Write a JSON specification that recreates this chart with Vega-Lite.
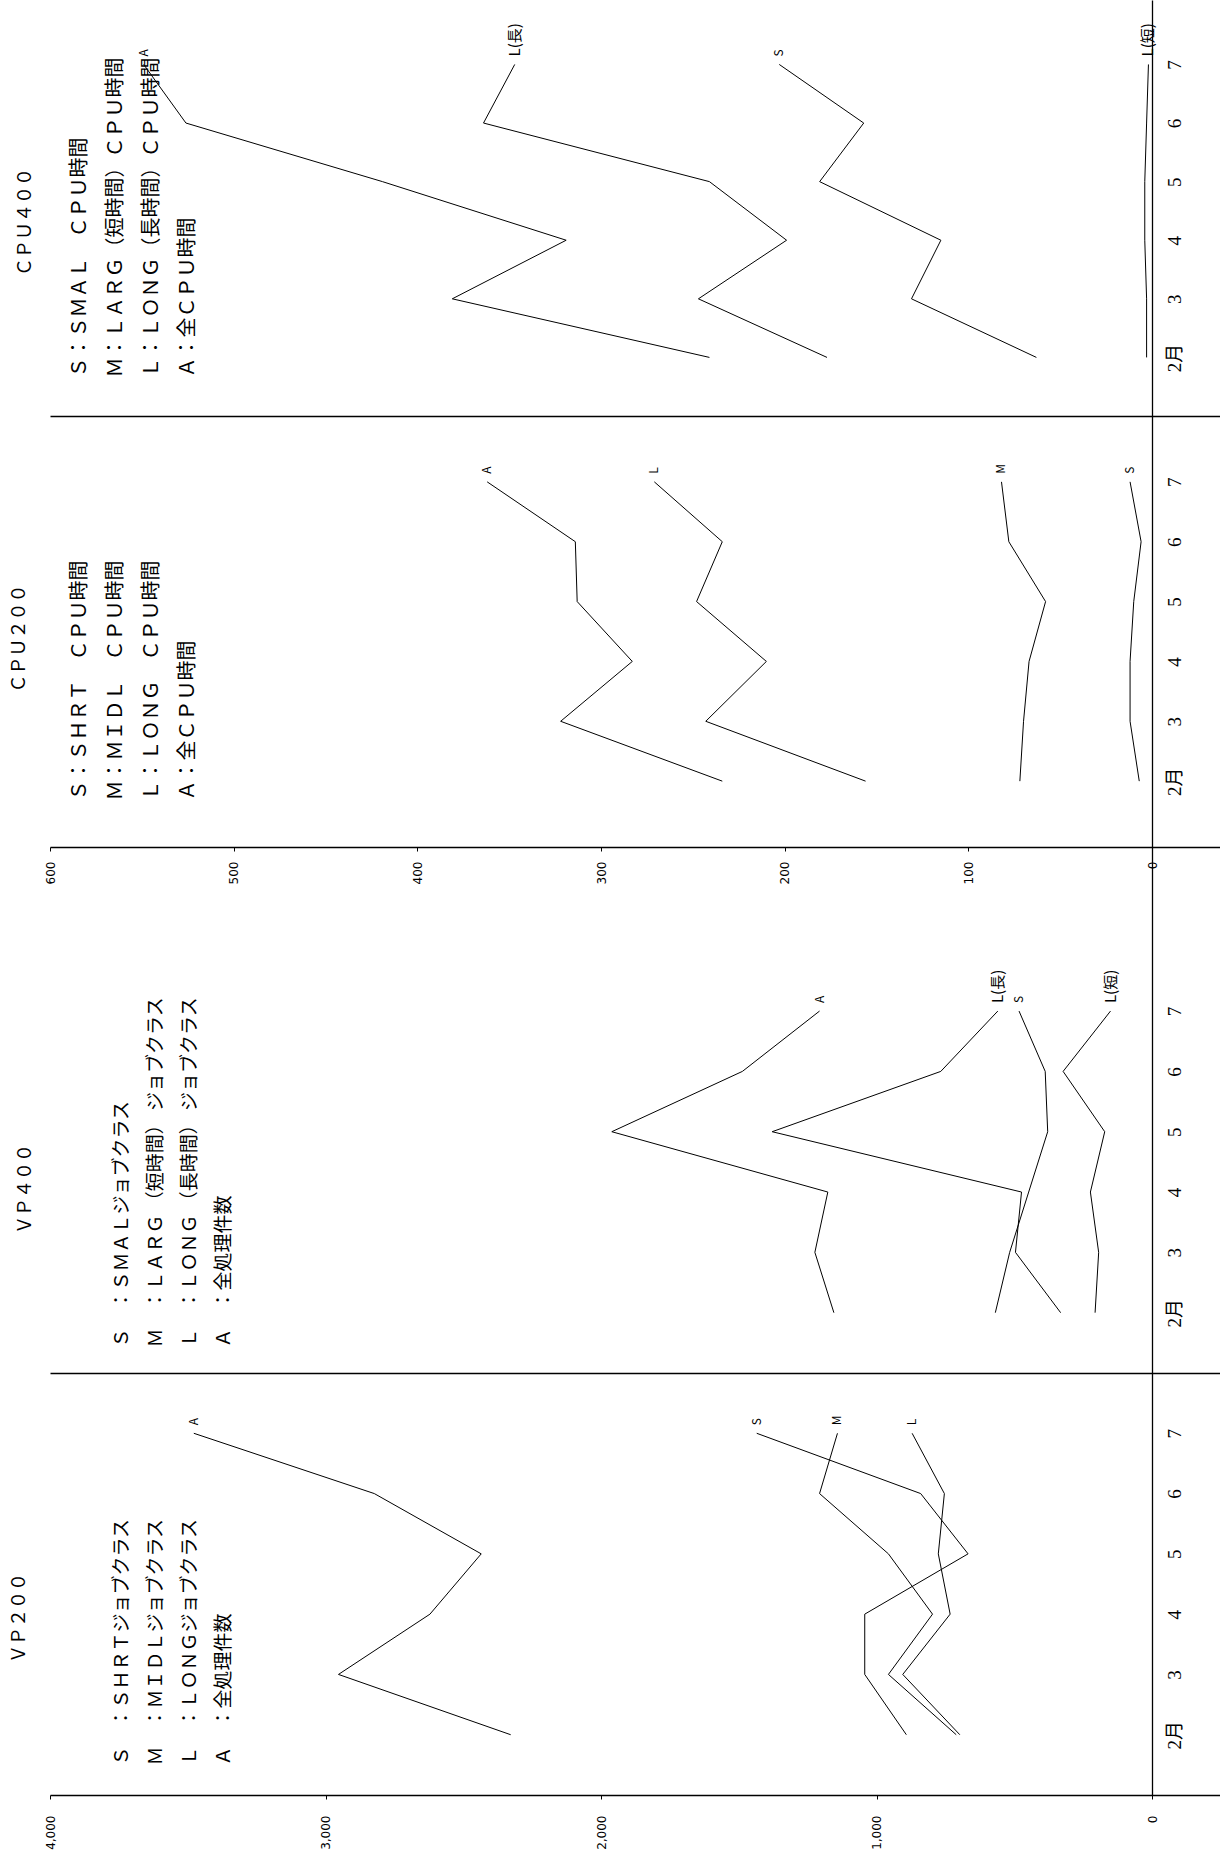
{
  "$schema": "https://vega.github.io/schema/vega-lite/v6.json",
  "padding": {"left": 10, "top": 0, "right": 0, "bottom": 0},
  "background": "white",
  "config": {
    "view": {"stroke": null},
    "font": "Noto Sans CJK JP",
    "axis": {"grid": false, "domainColor": "black", "tickColor": "black", "labelColor": "black", "titleColor": "black", "domainWidth": 1.3},
    "title": {"color": "black"}
  },
  "datasets": {
    "cpu400": [
      {"month": 2, "series": "A", "value": 241}, {"month": 3, "series": "A", "value": 381}, {"month": 4, "series": "A", "value": 319},
      {"month": 5, "series": "A", "value": 419}, {"month": 6, "series": "A", "value": 526}, {"month": 7, "series": "A", "value": 549},
      {"month": 2, "series": "L(長)", "value": 177}, {"month": 3, "series": "L(長)", "value": 247}, {"month": 4, "series": "L(長)", "value": 199},
      {"month": 5, "series": "L(長)", "value": 241}, {"month": 6, "series": "L(長)", "value": 364}, {"month": 7, "series": "L(長)", "value": 347},
      {"month": 2, "series": "S", "value": 63}, {"month": 3, "series": "S", "value": 131}, {"month": 4, "series": "S", "value": 115},
      {"month": 5, "series": "S", "value": 181}, {"month": 6, "series": "S", "value": 157}, {"month": 7, "series": "S", "value": 203},
      {"month": 2, "series": "L(短)", "value": 3}, {"month": 3, "series": "L(短)", "value": 3}, {"month": 4, "series": "L(短)", "value": 4},
      {"month": 5, "series": "L(短)", "value": 4}, {"month": 6, "series": "L(短)", "value": 3}, {"month": 7, "series": "L(短)", "value": 2}
    ],
    "cpu200": [
      {"month": 2, "series": "A", "value": 234}, {"month": 3, "series": "A", "value": 322}, {"month": 4, "series": "A", "value": 283},
      {"month": 5, "series": "A", "value": 313}, {"month": 6, "series": "A", "value": 314}, {"month": 7, "series": "A", "value": 362},
      {"month": 2, "series": "L", "value": 156}, {"month": 3, "series": "L", "value": 243}, {"month": 4, "series": "L", "value": 210},
      {"month": 5, "series": "L", "value": 248}, {"month": 6, "series": "L", "value": 234}, {"month": 7, "series": "L", "value": 271},
      {"month": 2, "series": "M", "value": 72}, {"month": 3, "series": "M", "value": 70}, {"month": 4, "series": "M", "value": 67},
      {"month": 5, "series": "M", "value": 58}, {"month": 6, "series": "M", "value": 78}, {"month": 7, "series": "M", "value": 82},
      {"month": 2, "series": "S", "value": 7}, {"month": 3, "series": "S", "value": 12}, {"month": 4, "series": "S", "value": 12},
      {"month": 5, "series": "S", "value": 10}, {"month": 6, "series": "S", "value": 6}, {"month": 7, "series": "S", "value": 12}
    ],
    "vp400": [
      {"month": 2, "series": "A", "value": 1155}, {"month": 3, "series": "A", "value": 1224}, {"month": 4, "series": "A", "value": 1177},
      {"month": 5, "series": "A", "value": 1961}, {"month": 6, "series": "A", "value": 1487}, {"month": 7, "series": "A", "value": 1207},
      {"month": 2, "series": "L(長)", "value": 332}, {"month": 3, "series": "L(長)", "value": 496}, {"month": 4, "series": "L(長)", "value": 474},
      {"month": 5, "series": "L(長)", "value": 1379}, {"month": 6, "series": "L(長)", "value": 767}, {"month": 7, "series": "L(長)", "value": 560},
      {"month": 2, "series": "S", "value": 569}, {"month": 3, "series": "S", "value": 517}, {"month": 4, "series": "S", "value": 448},
      {"month": 5, "series": "S", "value": 379}, {"month": 6, "series": "S", "value": 388}, {"month": 7, "series": "S", "value": 483},
      {"month": 2, "series": "L(短)", "value": 207}, {"month": 3, "series": "L(短)", "value": 194}, {"month": 4, "series": "L(短)", "value": 224},
      {"month": 5, "series": "L(短)", "value": 172}, {"month": 6, "series": "L(短)", "value": 323}, {"month": 7, "series": "L(短)", "value": 151}
    ],
    "vp200": [
      {"month": 2, "series": "A", "value": 2328}, {"month": 3, "series": "A", "value": 2953}, {"month": 4, "series": "A", "value": 2621},
      {"month": 5, "series": "A", "value": 2435}, {"month": 6, "series": "A", "value": 2823}, {"month": 7, "series": "A", "value": 3478},
      {"month": 2, "series": "S", "value": 892}, {"month": 3, "series": "S", "value": 1043}, {"month": 4, "series": "S", "value": 1043},
      {"month": 5, "series": "S", "value": 668}, {"month": 6, "series": "S", "value": 840}, {"month": 7, "series": "S", "value": 1435},
      {"month": 2, "series": "M", "value": 711}, {"month": 3, "series": "M", "value": 957}, {"month": 4, "series": "M", "value": 797},
      {"month": 5, "series": "M", "value": 957}, {"month": 6, "series": "M", "value": 1207}, {"month": 7, "series": "M", "value": 1142},
      {"month": 2, "series": "L", "value": 698}, {"month": 3, "series": "L", "value": 905}, {"month": 4, "series": "L", "value": 733},
      {"month": 5, "series": "L", "value": 776}, {"month": 6, "series": "L", "value": 754}, {"month": 7, "series": "L", "value": 871}
    ]
  },
  "spacing": 0,
  "bounds": "flush",
  "vconcat": [
    {
      "width": 1171, "height": 416,
      "data": {"name": "cpu400"},
      "title": {"text": "ＣＰＵ４００", "orient": "left", "anchor": "middle", "frame": "group", "offset": 15, "dx": -14, "fontSize": 18, "fontWeight": "normal", "font": "Noto Sans CJK JP"},
      "layer": [
        {
          "mark": {"type": "line", "color": "black", "strokeWidth": 1},
          "encoding": {
            "x": {"field": "value", "type": "quantitative", "scale": {"domain": [-37.5, 600], "reverse": true, "nice": false, "zero": false},
                  "axis": {"labels": false, "ticks": false, "title": null}},
            "y": {"field": "month", "type": "quantitative", "scale": {"domain": [1, 8.1], "nice": false, "zero": false},
                  "axis": {"orient": "right", "offset": -69, "values": [2, 3, 4, 5, 6, 7], "labelExpr": "datum.value == 2 ? '2月' : datum.label", "labelAngle": 270, "labelAlign": "center", "labelBaseline": "top", "labelFontSize": 19, "labelFont": "Liberation Serif, Noto Sans CJK JP", "labelPadding": 13, "ticks": false, "title": null}},
            "detail": {"field": "series"},
            "order": {"field": "month", "type": "quantitative"}
          }
        },
        {
          "transform": [{"filter": "datum.month == 7"}],
          "mark": {"type": "text", "angle": 270, "align": "left", "baseline": "middle", "dx": 8, "color": "black"},
          "encoding": {
            "x": {"field": "value", "type": "quantitative", "scale": {"domain": [-37.5, 600], "reverse": true, "nice": false, "zero": false}},
            "y": {"field": "month", "type": "quantitative", "scale": {"domain": [1, 8.1], "nice": false, "zero": false},
                  "axis": {"orient": "left", "labels": false, "ticks": false, "domain": false,
                           "title": ["Ｓ：ＳＭＡＬ　ＣＰＵ時間", "Ｍ：ＬＡＲＧ（短時間）ＣＰＵ時間", "Ｌ：ＬＯＮＧ（長時間）ＣＰＵ時間", "Ａ：全ＣＰＵ時間"],
                           "titleAnchor": "start", "titleAlign": "left", "titlePadding": -147, "titleY": 377, "titleFontSize": 20, "titleFontWeight": "normal", "titleLineHeight": 36, "titleFont": "Noto Sans CJK JP"}},
            "text": {"field": "series"},
            "size": {"condition": {"test": "length(datum.series) > 1", "value": 15}, "value": 12}
          }
        }
      ],
      "resolve": {"axis": {"y": "independent"}}
    },
    {
      "width": 1171, "height": 431,
      "data": {"name": "cpu200"},
      "title": {"text": "ＣＰＵ２００", "orient": "left", "anchor": "middle", "frame": "group", "offset": 15, "dx": -7, "fontSize": 18, "fontWeight": "normal", "font": "Noto Sans CJK JP"},
      "layer": [
        {
          "mark": {"type": "line", "color": "black", "strokeWidth": 1},
          "encoding": {
            "x": {"field": "value", "type": "quantitative", "scale": {"domain": [-37.5, 600], "reverse": true, "nice": false, "zero": false},
                  "axis": {"values": [0, 100, 200, 300, 400, 500, 600], "format": "d", "labelAngle": 270, "labelAlign": "right", "labelBaseline": "middle", "labelFontSize": 12, "labelFont": "DejaVu Sans", "labelPadding": 10, "tickSize": 4, "title": null}},
            "y": {"field": "month", "type": "quantitative", "scale": {"domain": [0.9, 8.1], "nice": false, "zero": false},
                  "axis": {"orient": "right", "offset": -69, "values": [2, 3, 4, 5, 6, 7], "labelExpr": "datum.value == 2 ? '2月' : datum.label", "labelAngle": 270, "labelAlign": "center", "labelBaseline": "top", "labelFontSize": 19, "labelFont": "Liberation Serif, Noto Sans CJK JP", "labelPadding": 13, "ticks": false, "title": null}},
            "detail": {"field": "series"},
            "order": {"field": "month", "type": "quantitative"}
          }
        },
        {
          "transform": [{"filter": "datum.month == 7"}],
          "mark": {"type": "text", "angle": 270, "align": "left", "baseline": "middle", "dx": 8, "color": "black"},
          "encoding": {
            "x": {"field": "value", "type": "quantitative", "scale": {"domain": [-37.5, 600], "reverse": true, "nice": false, "zero": false}},
            "y": {"field": "month", "type": "quantitative", "scale": {"domain": [0.9, 8.1], "nice": false, "zero": false},
                  "axis": {"orient": "left", "labels": false, "ticks": false, "domain": false,
                           "title": ["Ｓ：ＳＨＲＴ　ＣＰＵ時間", "Ｍ：ＭＩＤＬ　ＣＰＵ時間", "Ｌ：ＬＯＮＧ　ＣＰＵ時間", "Ａ：全ＣＰＵ時間"],
                           "titleAnchor": "start", "titleAlign": "left", "titlePadding": -147, "titleY": 384, "titleFontSize": 20, "titleFontWeight": "normal", "titleLineHeight": 36, "titleFont": "Noto Sans CJK JP"}},
            "text": {"field": "series"},
            "size": {"condition": {"test": "length(datum.series) > 1", "value": 15}, "value": 12}
          }
        }
      ],
      "resolve": {"axis": {"y": "independent"}}
    },
    {
      "width": 1171, "height": 526,
      "data": {"name": "vp400"},
      "title": {"text": "ＶＰ４００", "orient": "left", "anchor": "middle", "frame": "group", "offset": 15, "dx": -79, "fontSize": 18, "fontWeight": "normal", "font": "Noto Sans CJK JP"},
      "layer": [
        {
          "mark": {"type": "line", "color": "black", "strokeWidth": 1},
          "encoding": {
            "x": {"field": "value", "type": "quantitative", "scale": {"domain": [-250, 4000], "reverse": true, "nice": false, "zero": false},
                  "axis": {"labels": false, "ticks": false, "title": null}},
            "y": {"field": "month", "type": "quantitative", "scale": {"domain": [1, 9.72], "nice": false, "zero": false},
                  "axis": {"orient": "right", "offset": -69, "values": [2, 3, 4, 5, 6, 7], "labelExpr": "datum.value == 2 ? '2月' : datum.label", "labelAngle": 270, "labelAlign": "center", "labelBaseline": "top", "labelFontSize": 19, "labelFont": "Liberation Serif, Noto Sans CJK JP", "labelPadding": 13, "ticks": false, "title": null}},
            "detail": {"field": "series"},
            "order": {"field": "month", "type": "quantitative"}
          }
        },
        {
          "transform": [{"filter": "datum.month == 7"}],
          "mark": {"type": "text", "angle": 270, "align": "left", "baseline": "middle", "dx": 8, "color": "black"},
          "encoding": {
            "x": {"field": "value", "type": "quantitative", "scale": {"domain": [-250, 4000], "reverse": true, "nice": false, "zero": false}},
            "y": {"field": "month", "type": "quantitative", "scale": {"domain": [1, 9.72], "nice": false, "zero": false},
                  "axis": {"orient": "left", "labels": false, "ticks": false, "domain": false,
                           "title": ["Ｓ　：ＳＭＡＬジョブクラス", "Ｍ　：ＬＡＲＧ （短時間） ジョブクラス", "Ｌ　：ＬＯＮＧ （長時間） ジョブクラス", "Ａ　：全処理件数"],
                           "titleAnchor": "start", "titleAlign": "left", "titlePadding": -183, "titleY": 500, "titleFontSize": 19, "titleFontWeight": "normal", "titleLineHeight": 34, "titleFont": "Noto Sans CJK JP"}},
            "text": {"field": "series"},
            "size": {"condition": {"test": "length(datum.series) > 1", "value": 15}, "value": 12}
          }
        }
      ],
      "resolve": {"axis": {"y": "independent"}}
    },
    {
      "width": 1171, "height": 422,
      "data": {"name": "vp200"},
      "title": {"text": "ＶＰ２００", "orient": "left", "anchor": "middle", "frame": "group", "offset": 15, "dx": -34, "fontSize": 18, "fontWeight": "normal", "font": "Noto Sans CJK JP"},
      "layer": [
        {
          "mark": {"type": "line", "color": "black", "strokeWidth": 1},
          "encoding": {
            "x": {"field": "value", "type": "quantitative", "scale": {"domain": [-250, 4000], "reverse": true, "nice": false, "zero": false},
                  "axis": {"values": [0, 1000, 2000, 3000, 4000], "format": ",d", "labelAngle": 270, "labelAlign": "right", "labelBaseline": "middle", "labelFontSize": 12, "labelFont": "DejaVu Sans", "labelPadding": 16, "tickSize": 4, "title": null}},
            "y": {"field": "month", "type": "quantitative", "scale": {"domain": [1, 8], "nice": false, "zero": false},
                  "axis": {"orient": "right", "offset": -69, "values": [2, 3, 4, 5, 6, 7], "labelExpr": "datum.value == 2 ? '2月' : datum.label", "labelAngle": 270, "labelAlign": "center", "labelBaseline": "top", "labelFontSize": 19, "labelFont": "Liberation Serif, Noto Sans CJK JP", "labelPadding": 13, "ticks": false, "title": null}},
            "detail": {"field": "series"},
            "order": {"field": "month", "type": "quantitative"}
          }
        },
        {
          "transform": [{"filter": "datum.month == 7"}],
          "mark": {"type": "text", "angle": 270, "align": "left", "baseline": "middle", "dx": 8, "color": "black"},
          "encoding": {
            "x": {"field": "value", "type": "quantitative", "scale": {"domain": [-250, 4000], "reverse": true, "nice": false, "zero": false}},
            "y": {"field": "month", "type": "quantitative", "scale": {"domain": [1, 8], "nice": false, "zero": false},
                  "axis": {"orient": "left", "labels": false, "ticks": false, "domain": false,
                           "title": ["Ｓ　：ＳＨＲＴジョブクラス", "Ｍ　：ＭＩＤＬジョブクラス", "Ｌ　：ＬＯＮＧジョブクラス", "Ａ　：全処理件数"],
                           "titleAnchor": "start", "titleAlign": "left", "titlePadding": -183, "titleY": 392, "titleFontSize": 19, "titleFontWeight": "normal", "titleLineHeight": 34, "titleFont": "Noto Sans CJK JP"}},
            "text": {"field": "series"},
            "size": {"condition": {"test": "length(datum.series) > 1", "value": 15}, "value": 12}
          }
        }
      ],
      "resolve": {"axis": {"y": "independent"}}
    }
  ]
}
